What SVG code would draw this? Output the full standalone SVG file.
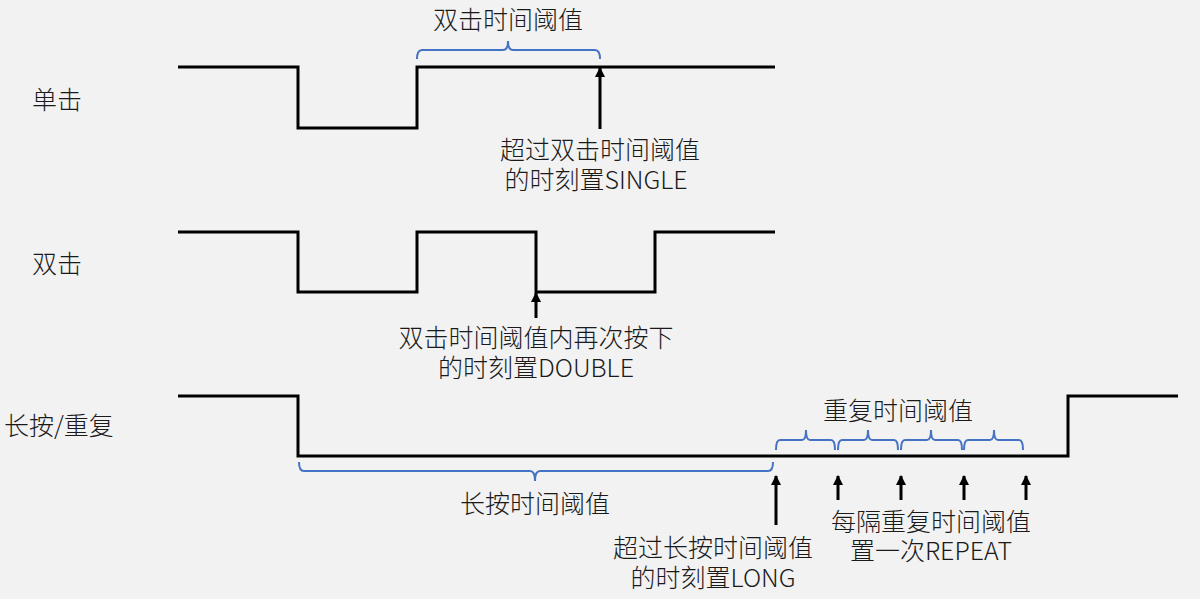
<svg xmlns="http://www.w3.org/2000/svg" width="1200" height="599" viewBox="0 0 1200 599">
<style>
.w{fill:none;stroke:#000;stroke-width:3}
.b{fill:none;stroke:#4472c4;stroke-width:2}
.a{stroke:#000;stroke-width:3;marker-end:url(#ah)}
text{font-family:"Noto Sans CJK SC","Microsoft YaHei",sans-serif;font-size:25px;font-weight:300;fill:#1a1a1a}
.c{text-anchor:middle}
</style>
<defs>
<marker id="ah" markerWidth="10" markerHeight="10" viewBox="0 0 10 10" refX="9" refY="5" orient="auto" markerUnits="userSpaceOnUse">
<path d="M0,0 L10,5 L0,10 z" fill="#000"/>
</marker>
</defs>
<rect width="1200" height="599" fill="#f2f2f2"/>
<g id="row-single">
<text x="32" y="109">单击</text>
<path class="w" d="M178,67 H298 V128 H417 V67 H775"/>
</g>
<g id="row-double">
<text x="32" y="273">双击</text>
<path class="w" d="M178,232 H298 V292 H417 V232 H536 V292 H655 V232 H775"/>
</g>
<g id="row-long">
<text x="4" y="435">长按/重复</text>
<path class="w" d="M178,396 H298 V456 H1068 V396 H1178"/>
</g>
<g id="braces">
<path class="b" d="M417,59 Q417,50 422,50 H503 Q508,50 508,41 Q508,50 513,50 H595 Q600,50 600,59"/>
<path class="b" d="M299,462 Q299,471 304,471 H530 Q535,471 535,481 Q535,471 540,471 H768 Q773,471 773,462"/>
<path class="b" d="M776,450 Q776,440 780,440 H802 Q806,440 806,430 Q806,440 810,440 H831 Q835,440 835,450"/>
<path class="b" d="M838,450 Q838,440 842,440 H864 Q868,440 868,430 Q868,440 872,440 H894 Q898,440 898,450"/>
<path class="b" d="M901,450 Q901,440 905,440 H927 Q931,440 931,430 Q931,440 935,440 H958 Q962,440 962,450"/>
<path class="b" d="M964,450 Q964,440 968,440 H990 Q994,440 994,430 Q994,440 998,440 H1019 Q1023,440 1023,450"/>
</g>
<g id="connectors">
<line class="a" x1="600" y1="129" x2="600" y2="68"/>
<line class="a" x1="536" y1="318" x2="536" y2="293"/>
<line class="a" x1="776" y1="525" x2="776" y2="476"/>
<line class="a" x1="838" y1="500" x2="838" y2="476"/>
<line class="a" x1="901" y1="500" x2="901" y2="476"/>
<line class="a" x1="964" y1="500" x2="964" y2="476"/>
<line class="a" x1="1026" y1="500" x2="1026" y2="476"/>
</g>
<g id="labels">
<text class="c" x="508" y="29">双击时间阈值</text>
<text class="c" x="600" y="159">超过双击时间阈值</text>
<text class="c" x="596" y="189">的时刻置SINGLE</text>
<text class="c" x="536" y="347">双击时间阈值内再次按下</text>
<text class="c" x="536" y="377">的时刻置DOUBLE</text>
<text class="c" x="535" y="513">长按时间阈值</text>
<text class="c" x="713" y="557">超过长按时间阈值</text>
<text class="c" x="713" y="587">的时刻置LONG</text>
<text class="c" x="898" y="420">重复时间阈值</text>
<text class="c" x="931" y="531">每隔重复时间阈值</text>
<text class="c" x="931" y="560">置一次REPEAT</text>
</g>
</svg>
